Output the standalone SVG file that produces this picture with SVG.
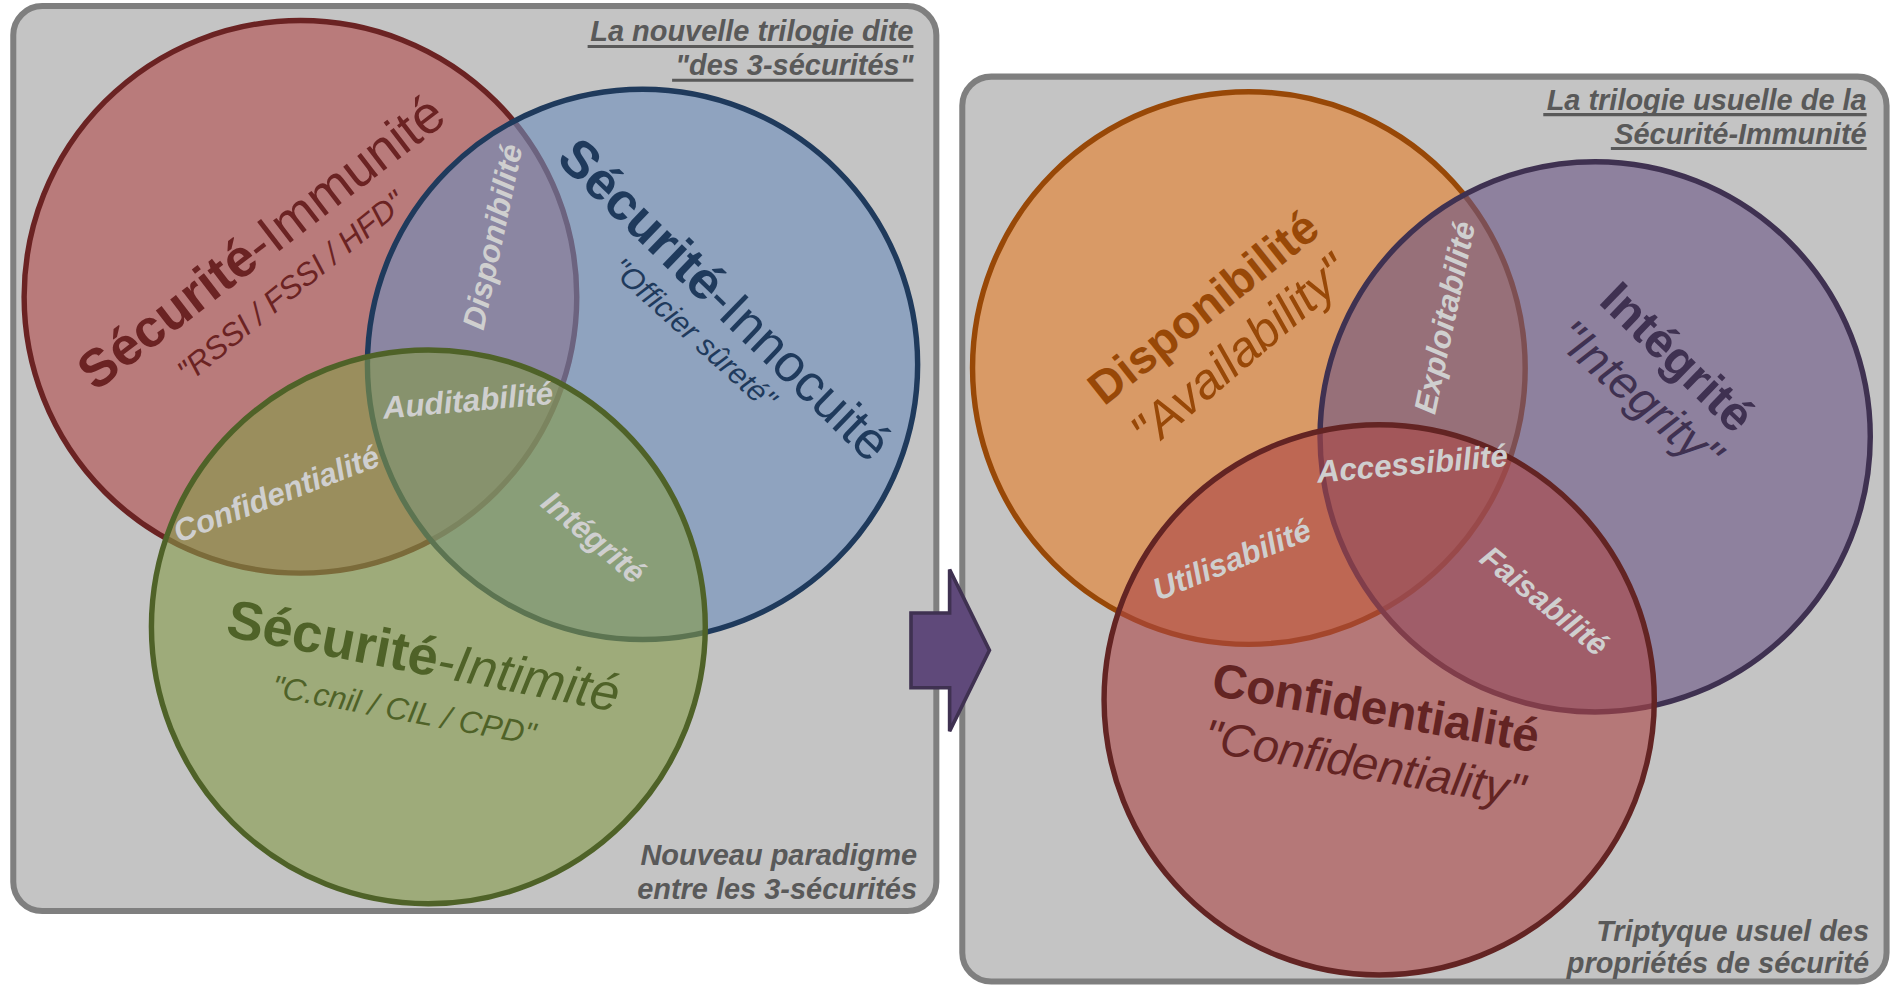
<svg xmlns="http://www.w3.org/2000/svg" width="1892" height="987" viewBox="0 0 1892 987">
<style>
text{font-family:"Liberation Sans",Arial,sans-serif}
.panel{fill:#c4c4c4;stroke:#7f7f7f;stroke-width:5}
.hdr{font-size:24px;font-weight:bold;font-style:italic;fill:#595959;text-anchor:end}
.ul{stroke:#595959;stroke-width:2.5}
.inter{font-size:26px;font-weight:bold;font-style:italic;fill:#cfcfcf}
.sub{font-style:italic}
.c{stroke-width:4.5;fill-opacity:0.6}
</style>
<rect width="1892" height="987" fill="#ffffff"/>
<g transform="scale(1.20663)">
<g id="panel-left">
<rect class="panel" x="11" y="5" width="765" height="750" rx="24"/>
<text class="hdr" x="757" y="34">La nouvelle trilogie dite</text>
<line class="ul" x1="487" y1="38.5" x2="757" y2="38.5"/>
<text class="hdr" x="757" y="62">"des 3-sécurités"</text>
<line class="ul" x1="557" y1="66.5" x2="757" y2="66.5"/>
<text class="hdr" x="760" y="717" font-size="23">Nouveau paradigme</text>
<text class="hdr" x="760" y="745" font-size="23">entre les 3-sécurités</text>
</g>
<g id="panel-right">
<rect class="panel" x="797.5" y="63.5" width="766" height="750" rx="24"/>
<text class="hdr" x="1547" y="91">La trilogie usuelle de la</text>
<line class="ul" x1="1279" y1="95" x2="1547" y2="95"/>
<text class="hdr" x="1547" y="119">Sécurité-Immunité</text>
<line class="ul" x1="1335" y1="123" x2="1547" y2="123"/>
<text class="hdr" x="1549" y="780" font-size="23">Triptyque usuel des</text>
<text class="hdr" x="1549" y="806" font-size="23">propriétés de sécurité</text>
</g>
<g id="securite-immunite">
<circle class="c" cx="249" cy="246" r="229" fill="#b24b4b" stroke="#6b2323"/>
<text transform="translate(79,325) rotate(-37.5)" font-size="44" fill="#6b2323"><tspan font-weight="bold">Sécurité</tspan>-Immunité</text>
<text class="sub" transform="translate(156,318) rotate(-39)" font-size="26" fill="#6b2323">"RSSI / FSSI / HFD"</text>
</g>
<g id="securite-innocuite">
<circle class="c" cx="532.5" cy="302" r="228" fill="#6c8ebc" stroke="#1f3a5c"/>
<text transform="translate(460,133) rotate(44)" font-size="43.5" fill="#1f3a5c"><tspan font-weight="bold">Sécurité</tspan>-Innocuité</text>
<text class="sub" transform="translate(505,225) rotate(42)" font-size="25" fill="#1f3a5c">"Officier sûreté"</text>
</g>
<g id="securite-intimite">
<circle class="c" cx="355" cy="519.5" r="229.5" fill="#859b49" stroke="#4f6228"/>
<text transform="translate(186,527) rotate(11)" font-size="43" fill="#4f6228"><tspan font-weight="bold" font-size="45">Sécurité</tspan><tspan font-style="italic">-Intimité</tspan></text>
<text class="sub" transform="translate(224,577) rotate(10.5)" font-size="26" fill="#4f6228">"C.cnil / CIL / CPD"</text>
</g>
<g id="intersections-left">
<text class="inter" transform="translate(417,198) rotate(-78)" text-anchor="middle" font-size="25">Disponibilité</text>
<text class="inter" transform="translate(318,347) rotate(-5)">Auditabilité</text>
<text class="inter" transform="translate(148,450) rotate(-21)" font-size="25">Confidentialité</text>
<text class="inter" transform="translate(447,419) rotate(40)">Intégrité</text>
</g>
<g id="disponibilite">
<circle class="c" cx="1035" cy="305" r="229" fill="#e87f28" stroke="#984807"/>
<text transform="translate(915,337) rotate(-38.5)" font-size="38.5" font-weight="bold" fill="#984807">Disponibilité</text>
<text class="sub" transform="translate(952,374) rotate(-40.5)" font-size="41" fill="#984807">"Availability"</text>
</g>
<g id="integrite">
<circle class="c" cx="1322" cy="362" r="228" fill="#6b5585" stroke="#3f3151"/>
<text transform="translate(1324,251) rotate(44)" font-size="40" font-weight="bold" fill="#3f3151">Intégrité</text>
<text class="sub" transform="translate(1287,283) rotate(41)" font-size="39" fill="#3f3151">"Integrity"</text>
</g>
<g id="confidentialite">
<circle class="c" cx="1143" cy="580" r="228" fill="#ac4646" stroke="#632423"/>
<text transform="translate(1003,576) rotate(10)" font-size="39.5" font-weight="bold" fill="#632423">Confidentialité</text>
<text class="sub" transform="translate(996,622) rotate(10)" font-size="38.5" fill="#632423">"Confidentiality"</text>
</g>
<g id="intersections-right">
<text class="inter" transform="translate(1206,265) rotate(-78)" text-anchor="middle" font-size="25">Exploitabilité</text>
<text class="inter" transform="translate(1092,400) rotate(-5)">Accessibilité</text>
<text class="inter" transform="translate(960,498) rotate(-22)">Utilisabilité</text>
<text class="inter" transform="translate(1225,465) rotate(39)">Faisabilité</text>
</g>
<g id="connectors">
<path d="M755,508 L787,508 L787,472 L820,539 L787,606 L787,570 L755,570 Z" fill="#5f497a" stroke="#3f3151" stroke-width="3" stroke-linejoin="miter"/>
</g>
</g>
</svg>
